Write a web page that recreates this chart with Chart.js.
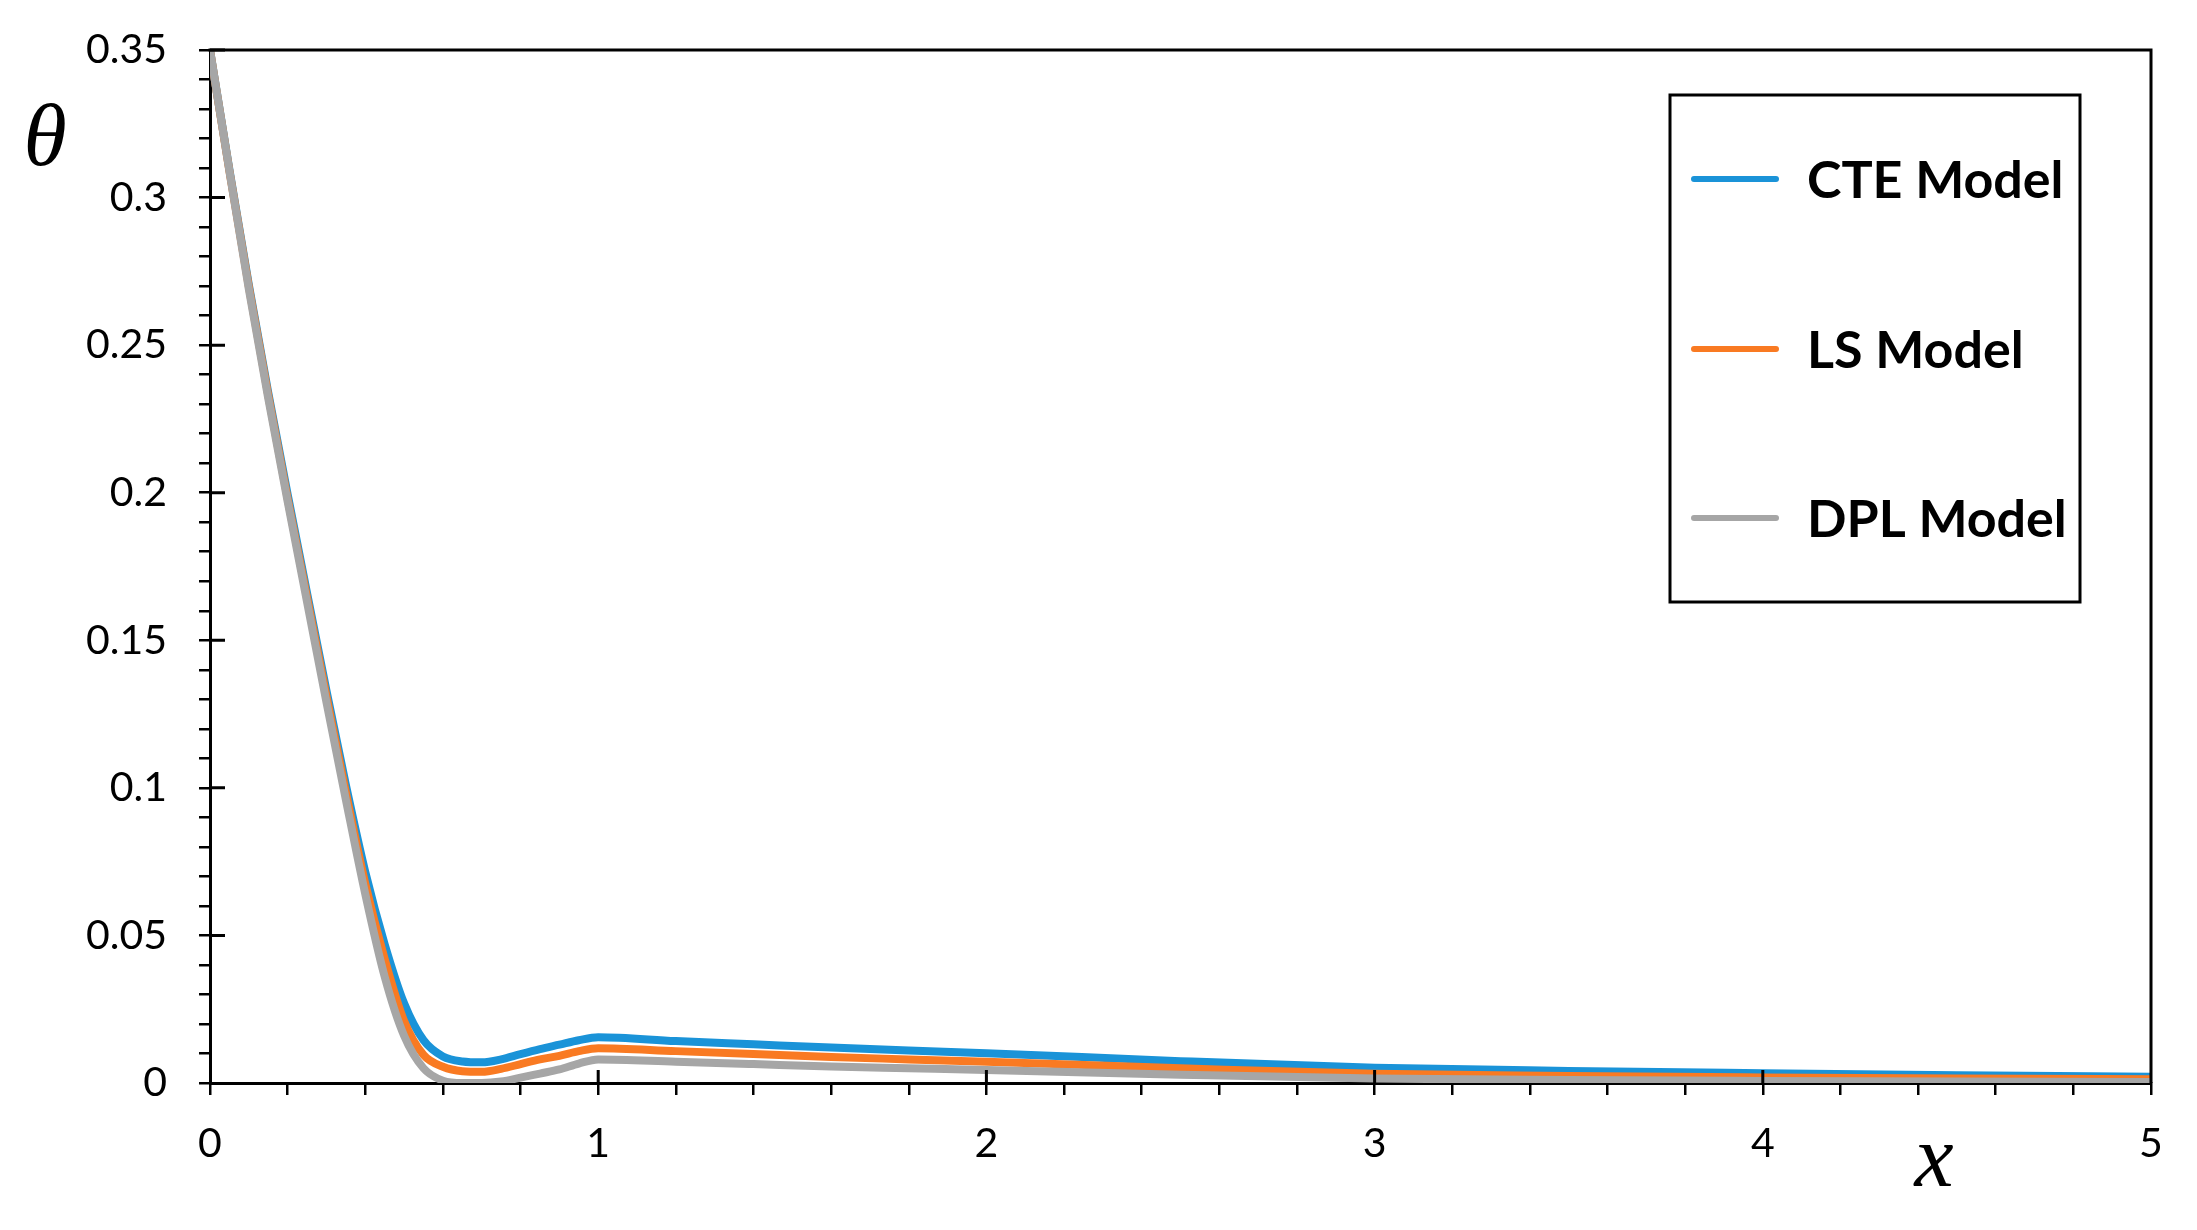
<!DOCTYPE html>
<html>
<head>
<meta charset="utf-8">
<script src="https://cdn.jsdelivr.net/npm/chart.js@4.4.1/dist/chart.umd.min.js"></script>
<style>
  html, body { margin: 0; padding: 0; background: #ffffff; }
  #c { display: block; }
</style>
</head>
<body>
<canvas id="c" width="2197" height="1230"></canvas>
<script>
// ---- data ----
const xValues  = [0, 0.05, 0.1, 0.15, 0.2, 0.25, 0.3, 0.35, 0.4, 0.45, 0.5, 0.55, 0.6, 0.65, 0.7, 0.75, 0.8, 0.85, 0.9, 0.95, 1.0,
                  1.2, 1.4, 1.6, 1.8, 2.0, 2.5, 3.0, 3.5, 4.0, 4.5, 5.0];
const cteValues = [0.35, 0.3095, 0.2705, 0.234, 0.1995, 0.166, 0.133, 0.101, 0.0715, 0.047, 0.027, 0.0145, 0.0090, 0.0073, 0.0070, 0.0080, 0.0098, 0.0115, 0.0130, 0.0145, 0.0155,
                  0.0142, 0.0131, 0.0120, 0.0110, 0.0101, 0.0074, 0.0052, 0.0041, 0.0033, 0.0026, 0.0021];
const lsValues  = [0.35, 0.309, 0.2698, 0.233, 0.198, 0.1645, 0.131, 0.0985, 0.0675, 0.042, 0.021, 0.0095, 0.0055, 0.0040, 0.0038, 0.0048, 0.0064, 0.0080, 0.0092, 0.0108, 0.0118,
                  0.0108, 0.0098, 0.0088, 0.0080, 0.0072, 0.0050, 0.0031, 0.0024, 0.0019, 0.0015, 0.0013];
const dplValues = [0.35, 0.309, 0.269, 0.232, 0.197, 0.163, 0.129, 0.096, 0.064, 0.036, 0.016, 0.005, 0.0008, 0.0, 0.0, 0.0005, 0.0018, 0.0032, 0.0046, 0.0066, 0.0080,
                  0.0072, 0.0064, 0.0056, 0.0050, 0.0044, 0.0028, 0.0015, 0.0010, 0.0007, 0.0005, 0.0003];
const seriesLabels = ['CTE Model', 'LS Model', 'DPL Model'];
const seriesColors = ['#1A93D8', '#F97A22', '#A6A6A6'];
const yTickLabels = ['0', '0.05', '0.1', '0.15', '0.2', '0.25', '0.3', '0.35'];
const xTickLabels = ['0', '1', '2', '3', '4', '5'];
const yAxisTitle = 'θ';
const xAxisTitle = 'x';

const toPoints = vals => xValues.map((x, i) => ({ x: x, y: vals[i] }));
const isMult = (v, step) => Math.abs(v / step - Math.round(v / step)) < 1e-6;

const TICK_FONT = { family: 'Lato', size: 41 };

const decor = {
  id: 'decor',
  afterDraw(chart) {
    const { ctx, chartArea: a, scales: { x, y } } = chart;
    ctx.save();
    ctx.strokeStyle = '#000';
    ctx.lineWidth = 3;
    ctx.lineCap = 'butt';
    // top and right frame
    ctx.beginPath();
    ctx.moveTo(a.left - 1.5, a.top);
    ctx.lineTo(a.right, a.top);
    ctx.lineTo(a.right, a.bottom);
    ctx.stroke();
    // inward parts of major ticks
    ctx.beginPath();
    y.ticks.forEach(t => {
      if (isMult(t.value, 0.05) && t.value > 0.001) {
        const py = y.getPixelForValue(t.value);
        ctx.moveTo(a.left, py); ctx.lineTo(a.left + 15, py);
      }
    });
    x.ticks.forEach(t => {
      if (isMult(t.value, 1) && t.value > 0.01 && t.value < 4.99) {
        const px = x.getPixelForValue(t.value);
        ctx.moveTo(px, a.bottom); ctx.lineTo(px, a.bottom - 13);
      }
    });
    ctx.stroke();
    // axis titles
    ctx.fillStyle = '#000';
    ctx.font = 'italic 88px "Liberation Serif"';
    ctx.textAlign = 'center';
    ctx.textBaseline = 'alphabetic';
    ctx.fillText(yAxisTitle, a.left - 165, a.top + 115);
    ctx.fillText(xAxisTitle, a.left + 1724, a.bottom + 103);
    // legend box
    const bx = a.left + 1460, by = a.top + 45, bw = 410, bh = 507;
    ctx.lineWidth = 3;
    ctx.strokeRect(bx, by, bw, bh);
    const rowY = [by + 84, by + 254, by + 423];
    ctx.font = 'bold 52px Lato';
    ctx.textAlign = 'left';
    ctx.textBaseline = 'middle';
    chart.data.datasets.forEach((ds, i) => {
      ctx.strokeStyle = ds.borderColor;
      ctx.lineWidth = 6;
      ctx.lineCap = 'round';
      ctx.beginPath();
      ctx.moveTo(bx + 24, rowY[i]);
      ctx.lineTo(bx + 106, rowY[i]);
      ctx.stroke();
      ctx.fillStyle = '#000';
      ctx.fillText(ds.label, bx + 137, rowY[i] + 2);
    });
    ctx.restore();
  }
};

new Chart(document.getElementById('c'), {
  type: 'line',
  data: {
    datasets: [
      { label: seriesLabels[0], data: toPoints(cteValues), borderColor: seriesColors[0], order: 3 },
      { label: seriesLabels[1], data: toPoints(lsValues), borderColor: seriesColors[1], order: 2 },
      { label: seriesLabels[2], data: toPoints(dplValues), borderColor: seriesColors[2], order: 1 }
    ].map(d => Object.assign(d, {
      borderWidth: 8, pointRadius: 0, fill: false,
      cubicInterpolationMode: 'monotone', clip: 0, borderCapStyle: 'round'
    }))
  },
  options: {
    responsive: false,
    devicePixelRatio: 1,
    animation: false,
    layout: { padding: { top: 50, right: 46, left: 0, bottom: 0 } },
    plugins: { legend: { display: false }, tooltip: { enabled: false }, title: { display: false } },
    scales: {
      x: {
        type: 'linear', min: 0, max: 5,
        afterFit: s => { s.height = 147; s.paddingLeft = 0; s.paddingRight = 0; },
        border: { display: true, color: '#000', width: 3 },
        grid: { display: true, drawOnChartArea: false, drawTicks: true, tickLength: 12, color: '#000', lineWidth: 2.5 },
        ticks: {
          stepSize: 0.2, autoSkip: false, maxRotation: 0, color: '#000', font: TICK_FONT, padding: 24,
          callback: v => isMult(v, 1) ? xTickLabels[Math.round(v)] : ''
        }
      },
      y: {
        type: 'linear', min: 0, max: 0.35,
        afterFit: s => { s.width = 210; s.paddingTop = 0; s.paddingBottom = 0; },
        border: { display: true, color: '#000', width: 3 },
        grid: { display: true, drawOnChartArea: false, drawTicks: true, tickLength: 11, color: '#000', lineWidth: 2.5 },
        ticks: {
          stepSize: 0.01, autoSkip: false, color: '#000', font: TICK_FONT, padding: 32,
          callback: v => isMult(v, 0.05) ? yTickLabels[Math.round(v / 0.05)] : ''
        }
      }
    }
  },
  plugins: [decor]
});
</script>
</body>
</html>
